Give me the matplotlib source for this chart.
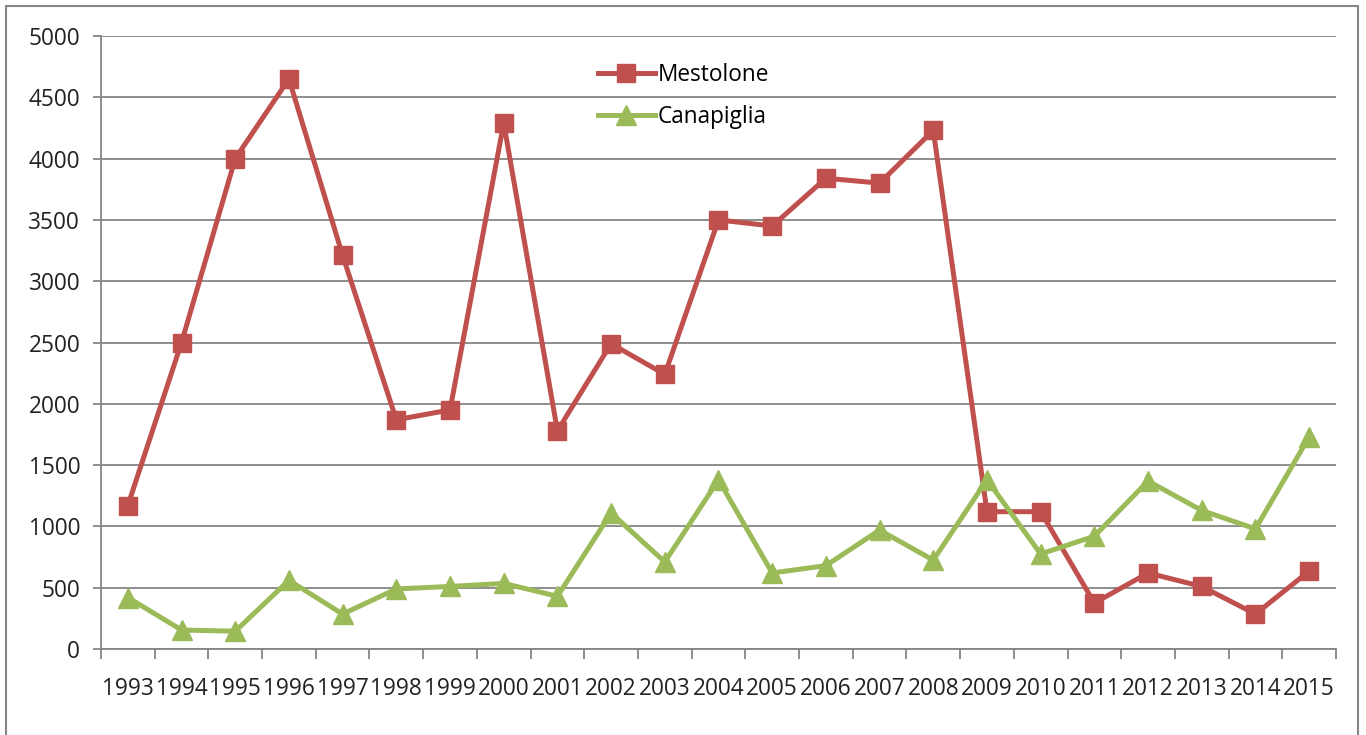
import numpy as np
import matplotlib.pyplot as plt
from matplotlib.patches import Rectangle

years = [str(y) for y in range(1993, 2016)]
mestolone = [1170, 2500, 4000, 4650, 3210, 1870, 1950, 4290, 1780, 2490, 2240, 3500,
             3450, 3840, 3800, 4230, 1120, 1120, 375, 620, 510, 285, 635]
canapiglia = [420, 155, 145, 560, 285, 490, 510, 535, 430, 1110, 710, 1380,
              620, 680, 970, 725, 1380, 775, 920, 1370, 1130, 980, 1730]

plt.rcParams['font.family'] = ['Open Sans', 'DejaVu Sans']
grid_col = '#868686'
fs = 16.3

fig = plt.figure(figsize=(13.66, 7.35), dpi=100)
ax = fig.add_axes([101 / 1366, 86 / 735, 1235 / 1366, 613 / 735])

x = np.arange(len(years))
ax.plot(x, mestolone, color='#C0504D', lw=3.6, marker='s', markersize=13,
        label='Mestolone', zorder=3)
ax.plot(x, canapiglia, color='#9BBB59', lw=3.6, marker='^', markersize=14,
        label='Canapiglia', zorder=3)

ax.set_xlim(-0.5, len(years) - 0.5)
ax.set_ylim(0, 5000)
ax.set_yticks(np.arange(0, 5001, 500))
ax.yaxis.grid(True, color=grid_col, lw=1.3)
ax.set_axisbelow(True)

ax.set_xticks(x)
ax.set_xticklabels(years, fontsize=fs, color='#222222')
ax.set_xticks(np.arange(-0.5, len(years)), minor=True)
ax.tick_params(axis='x', which='major', length=0, pad=20)
ax.tick_params(axis='x', which='minor', length=7, color=grid_col, width=1.3)
ax.tick_params(axis='y', length=6, color=grid_col, width=1.3, labelsize=fs,
               labelcolor='#222222', pad=9)

for s in ['top', 'right']:
    ax.spines[s].set_visible(False)
for s in ['left', 'bottom']:
    ax.spines[s].set_color(grid_col)
    ax.spines[s].set_linewidth(1.3)

ax.legend(loc='upper left', bbox_to_anchor=(0.386, 0.99), frameon=False,
          fontsize=fs, handlelength=2.5, handletextpad=0.15, labelspacing=0.8)

fig.patches.append(Rectangle((6 / 1366, -0.1), 1352 / 1366, 1.1 - 6 / 735,
                             transform=fig.transFigure, fill=False,
                             edgecolor=grid_col, lw=1.5))

fig.savefig('out.png', dpi=100)
